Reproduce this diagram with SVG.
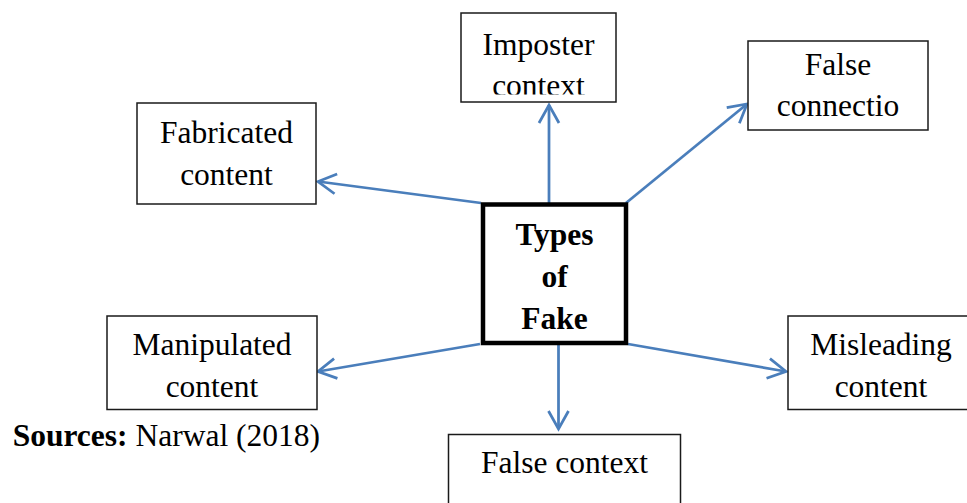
<svg xmlns="http://www.w3.org/2000/svg" width="967" height="503" viewBox="0 0 967 503">
<style>
.box{fill:#fff;stroke:#1a1a1a;stroke-width:1.5}
.t{font-family:"Liberation Serif","Times New Roman",serif;font-size:31.5px;fill:#000;text-anchor:middle}
.b{font-weight:bold}
.c{fill:none;stroke:#4a7ebb;stroke-width:2.75}
</style>
<defs>
<marker id="arr" viewBox="-20 -12 25 24" refX="0" refY="0" markerWidth="25" markerHeight="24" markerUnits="userSpaceOnUse" orient="auto">
<path d="M-18,-10 L0,0 L-18,10" fill="none" stroke="#4a7ebb" stroke-width="2.75"/>
</marker>
<clipPath id="clipImp"><rect x="461" y="13" width="155" height="81.5"/></clipPath>
</defs>
<rect width="967" height="503" fill="#fff"/>

<g id="connectors">
<line class="c" x1="549" y1="203" x2="549" y2="105" marker-end="url(#arr)"/>
<line class="c" x1="626" y1="203" x2="747" y2="104" marker-end="url(#arr)"/>
<line class="c" x1="481" y1="203" x2="318" y2="181.5" marker-end="url(#arr)"/>
<line class="c" x1="480" y1="344" x2="318" y2="371.5" marker-end="url(#arr)"/>
<line class="c" x1="628" y1="344" x2="786" y2="371.5" marker-end="url(#arr)"/>
<line class="c" x1="558.5" y1="344" x2="558.5" y2="429" marker-end="url(#arr)"/>
</g>

<g id="center">
<rect x="483" y="204.5" width="143" height="138.5" fill="#fff" stroke="#000" stroke-width="4.5"/>
<text class="t b" x="554.5" y="245">Types</text>
<text class="t b" x="554.5" y="287">of</text>
<text class="t b" x="554.5" y="329">Fake</text>
</g>

<g id="imposter">
<rect class="box" x="461" y="13" width="155" height="89"/>
<g clip-path="url(#clipImp)">
<text class="t" x="538.5" y="54.5">Imposter</text>
<text class="t" x="538.5" y="96">context</text>
</g>
</g>

<g id="false-connection">
<rect class="box" x="748" y="41" width="180" height="89"/>
<text class="t" x="838" y="75">False</text>
<text class="t" x="838" y="116">connectio</text>
</g>

<g id="fabricated">
<rect class="box" x="137" y="103" width="179" height="101"/>
<text class="t" x="226.5" y="143">Fabricated</text>
<text class="t" x="226.5" y="185">content</text>
</g>

<g id="manipulated">
<rect class="box" x="107" y="316" width="210" height="93.5"/>
<text class="t" x="212" y="355">Manipulated</text>
<text class="t" x="212" y="397">content</text>
</g>

<g id="misleading">
<rect class="box" x="788" y="316" width="190" height="93.5"/>
<text class="t" x="881" y="355">Misleading</text>
<text class="t" x="881" y="397">content</text>
</g>

<g id="false-context">
<rect class="box" x="448.5" y="434.5" width="232" height="80"/>
<text class="t" x="564.5" y="473">False context</text>
</g>

<g id="source">
<text class="t" x="320" y="446" style="text-anchor:end"><tspan class="b">Sources:</tspan> Narwal (2018)</text>
</g>
</svg>
